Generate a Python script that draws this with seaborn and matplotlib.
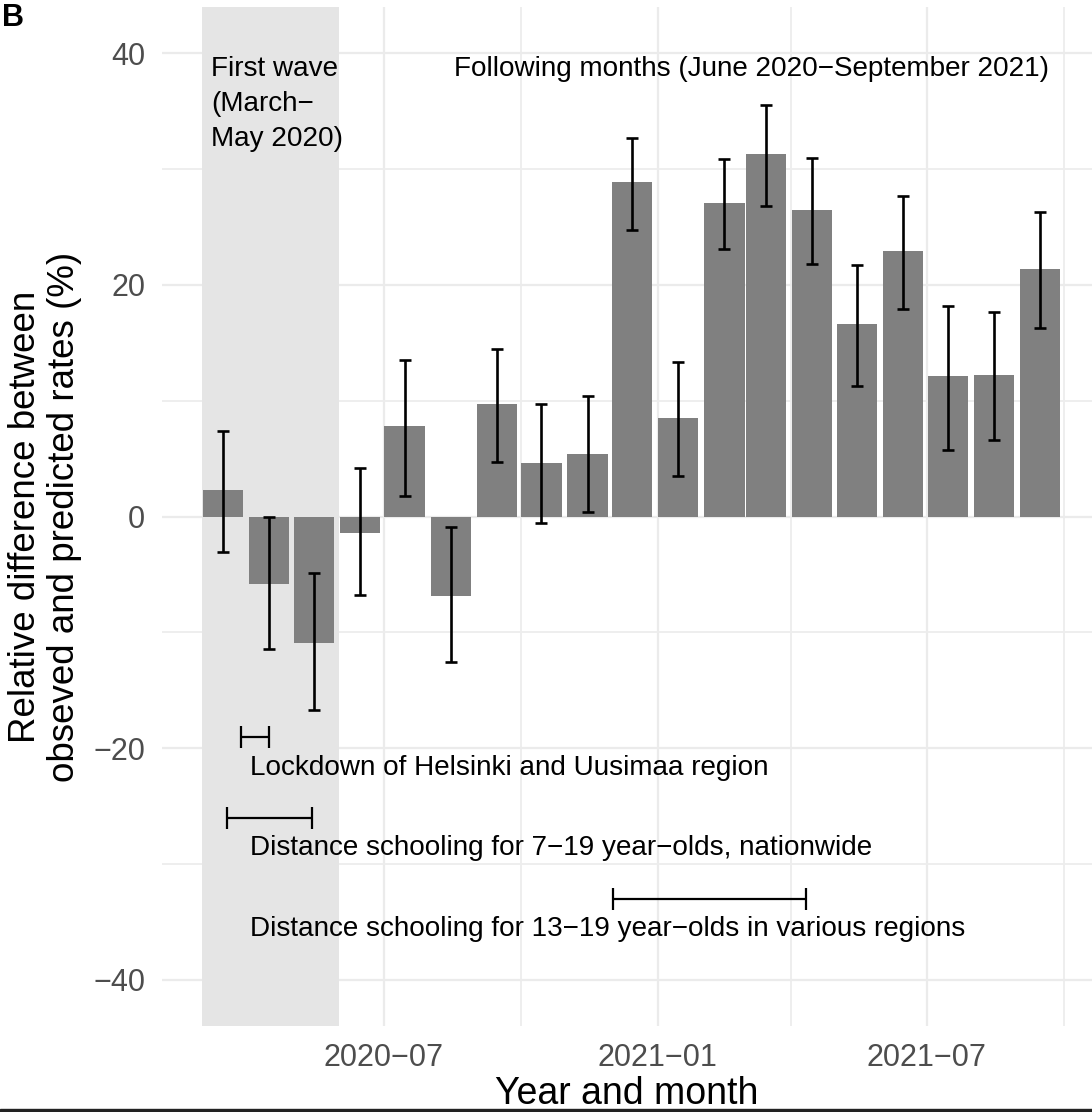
import matplotlib
matplotlib.use("Agg")
import matplotlib.pyplot as plt
import matplotlib.dates as mdates
from matplotlib.ticker import MultipleLocator
from matplotlib.patches import Rectangle
import numpy as np
import pandas as pd
import seaborn as sns

# monthly estimates, March 2020 - September 2021 (bars drawn mid-month)
months = pd.date_range("2020-03-01", "2021-09-01", freq="MS") + pd.Timedelta(days=14)
rel_diff = [2.3, -5.8, -10.9, -1.4, 7.8, -6.9, 9.7, 4.6, 5.4, 28.9,
            8.5, 27.1, 31.3, 26.5, 16.6, 22.9, 12.1, 12.2, 21.4]
ci_low = [-3.1, -11.4, -16.7, -6.8, 1.8, -12.6, 4.7, -0.6, 0.4, 24.7,
          3.5, 23.1, 26.8, 21.8, 11.3, 17.9, 5.7, 6.6, 16.3]
ci_high = [7.4, 0.0, -4.9, 4.2, 13.5, -0.9, 14.5, 9.7, 10.4, 32.7,
           13.3, 30.9, 35.5, 31.0, 21.7, 27.7, 18.2, 17.7, 26.3]

# interventions
interventions = ["Lockdown of Helsinki and Uusimaa region",
                 "Distance schooling for 7\u221219 year\u2212olds, nationwide",
                 "Distance schooling for 13\u221219 year\u2212olds in various regions"]
int_start = ["2020-03-27", "2020-03-18", "2020-12-02"]
int_end = ["2020-04-15", "2020-05-14", "2021-04-11"]

# layout of the annotation rows
seg_y = [-19.0, -26.0, -33.0]
lab_y = [-21.7, -28.6, -35.6]

sns.set_theme(style="whitegrid")
plt.rcParams["font.family"] = ["Liberation Sans", "DejaVu Sans"]
plt.rcParams["text.color"] = "black"

fig = plt.figure(figsize=(10.92, 11.12), dpi=100)
ax = fig.add_axes([162 / 1092, 1 - 1026 / 1112, (1092 - 162) / 1092, (1026 - 7) / 1112])
ax.set_axisbelow(True)

x = mdates.date2num(months)
df = pd.DataFrame({"month": x, "diff": rel_diff})

# first wave shading
ax.axvspan(mdates.date2num(pd.Timestamp("2020-03-01")), mdates.date2num(pd.Timestamp("2020-06-01")),
           color="#E5E5E5", lw=0, zorder=0.9)

sns.barplot(data=df, x="month", y="diff", native_scale=True, width=27 / 28,
            color="#808080", saturation=1, linewidth=0, errorbar=None, ax=ax, zorder=2)

y = np.array(rel_diff)
ax.errorbar(x, y, yerr=[y - np.array(ci_low), np.array(ci_high) - y], fmt="none",
            ecolor="black", elinewidth=1.9, capsize=4.2, capthick=1.9, zorder=3)

# intervention periods
s = mdates.date2num(pd.to_datetime(int_start))
e = mdates.date2num(pd.to_datetime(int_end))
ax.errorbar((s + e) / 2, seg_y, xerr=(e - s) / 2, fmt="none", ecolor="black",
            elinewidth=1.6, capsize=8, capthick=1.6, zorder=3)
lab_x = mdates.date2num(pd.Timestamp("2020-04-02"))
for txt, ly in zip(interventions, lab_y):
    ax.text(lab_x, ly, txt, ha="left", va="center", fontsize=20.1, color="black", zorder=4)

ax.text(mdates.date2num(pd.Timestamp("2020-03-07")), 39.8, "First wave\n(March\u2212\nMay 2020)",
        ha="left", va="top", fontsize=20.1, linespacing=1.45, color="black", zorder=4)
ax.text(mdates.date2num(pd.Timestamp("2021-03-05")), 39.8,
        "Following months (June 2020\u2212September 2021)",
        ha="center", va="top", fontsize=20.1, color="black", zorder=4)

ax.set_xlim(mdates.date2num(pd.Timestamp("2020-02-03")), mdates.date2num(pd.Timestamp("2021-10-20")))
ax.set_ylim(-44, 44)

ax.xaxis.set_major_locator(mdates.MonthLocator(bymonth=[1, 7]))
ax.xaxis.set_minor_locator(mdates.MonthLocator(bymonth=[4, 10]))
ax.xaxis.set_major_formatter(mdates.DateFormatter("%Y\u2212%m"))
ax.yaxis.set_major_locator(MultipleLocator(20))
ax.yaxis.set_minor_locator(MultipleLocator(10))

ax.grid(which="major", color="#EBEBEB", lw=1.6)
ax.grid(which="minor", color="#EDEDED", lw=1.3)
for sp in ax.spines.values():
    sp.set_visible(False)
ax.tick_params(which="both", length=0, labelsize=22, labelcolor="#4D4D4D", pad=12)

ax.set_xlabel("Year and month", fontsize=27, color="black")
ax.set_ylabel("Relative difference between\nobseved and predicted rates (%)", fontsize=26.5,
              color="black", linespacing=1.15)
ax.xaxis.set_label_coords(0.5, -0.049)
ax.yaxis.set_label_coords(-0.086, 0.5)

fig.text(2 / 1092, 1 - 26 / 1112, "B", fontsize=22, fontweight="bold", va="baseline", ha="left")
fig.add_artist(Rectangle((0, 0), 1, 3 / 1112, transform=fig.transFigure, color="#222222", zorder=10))

fig.savefig("out.png", dpi=100)
